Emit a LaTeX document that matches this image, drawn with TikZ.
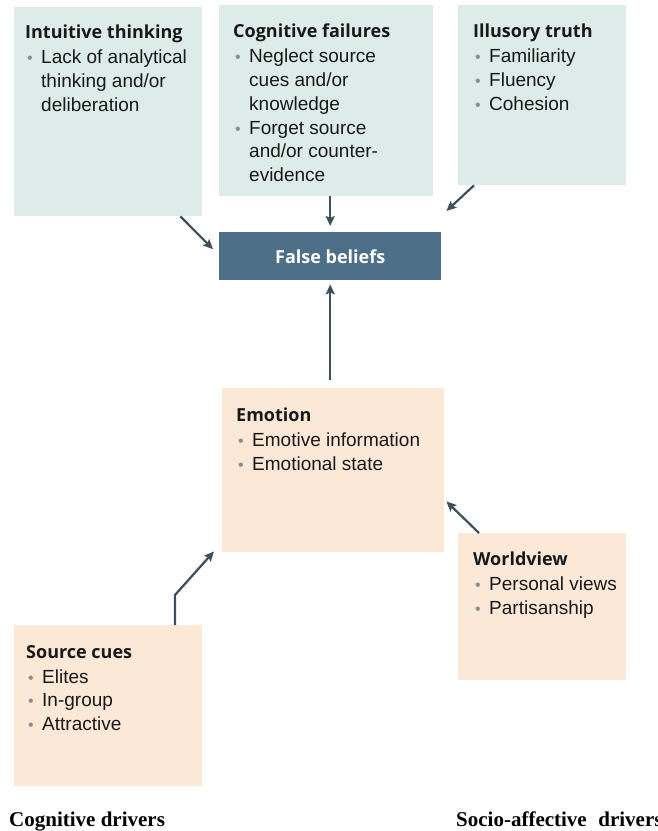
\documentclass[tikz,border=0pt]{standalone}
\usepackage{fontspec}
\setmainfont{Liberation Sans}
\newfontfamily\headfam{Open Sans}
\newfontfamily\capfam{Liberation Serif}
\usepackage{tikz}
\usetikzlibrary{arrows.meta,positioning,calc}
\definecolor{cogteal}{HTML}{DDECE8}
\definecolor{affpeach}{HTML}{FCE8D7}
\definecolor{beliefblue}{HTML}{4D6F87}
\definecolor{arrowslate}{HTML}{3C4F5B}
\definecolor{bulgrey}{HTML}{8C8C8C}
\tikzstyle{cogbox}=[rectangle,fill=cogteal,anchor=north west,inner sep=0pt]
\tikzstyle{affbox}=[rectangle,fill=affpeach,anchor=north west,inner sep=0pt]
\tikzstyle{boxtext}=[anchor=north west,align=left,inner sep=0pt,text=black!90,font=\fontsize{19}{23.8}\selectfont]
\newcommand{\hd}[1]{{\headfam\bfseries\fontsize{18}{20}\selectfont #1}\\[1pt]}
\newcommand{\bul}{\hspace*{2pt}\makebox[14pt][l]{\textcolor{bulgrey}{\fontsize{16}{16}\selectfont\textbullet}}}
\newcommand{\cont}{\hspace*{16pt}}

\begin{document}
\begin{tikzpicture}[x=1pt,y=-1pt]
\useasboundingbox (0,0) rectangle (658,831);
% top row
\node[cogbox,minimum width=188pt,minimum height=209pt] (intuitive) at (14,7) {};
\node[cogbox,minimum width=214pt,minimum height=191pt] (cogfail) at (219,5) {};
\node[cogbox,minimum width=168pt,minimum height=180pt] (illusory) at (458,5) {};
\node[rectangle,fill=beliefblue,anchor=north west,minimum width=222pt,minimum height=48pt,
  text=white,font=\headfam\bfseries\fontsize{18}{20}\selectfont] (false) at (219,232) {False beliefs};
% lower part
\node[affbox,minimum width=222pt,minimum height=164pt] (emotion) at (222,388) {};
\node[affbox,minimum width=168pt,minimum height=147pt] (worldview) at (458,533) {};
\node[affbox,minimum width=188pt,minimum height=161pt] (sources) at (14,625) {};

\node[boxtext] (intuitive-txt) at ($(intuitive.north west)+(11,18)$)
  {\hd{Intuitive thinking}\bul Lack of analytical\\ \cont thinking and/or\\ \cont deliberation};
\node[boxtext] (cogfail-txt) at ($(cogfail.north west)+(14,19)$)
  {\hd{Cognitive failures}\bul Neglect source\\ \cont cues and/or\\ \cont knowledge\\
   \bul Forget source\\ \cont and/or counter-\\ \cont evidence};
\node[boxtext] (illusory-txt) at ($(illusory.north west)+(15,19)$)
  {\hd{Illusory truth}\bul Familiarity\\ \bul Fluency\\ \bul Cohesion};
\node[boxtext] (emotion-txt) at ($(emotion.north west)+(14,20)$)
  {\hd{Emotion}\bul Emotive information\\ \bul Emotional state};
\node[boxtext] (worldview-txt) at ($(worldview.north west)+(15,19)$)
  {\hd{Worldview}\bul Personal views\\ \bul Partisanship};
\node[boxtext] (sources-txt) at ($(sources.north west)+(12,20)$)
  {\hd{Source cues}\bul Elites\\ \bul In-group\\ \bul Attractive};

\node[anchor=base west,inner sep=0pt,font=\capfam\bfseries\fontsize{21}{24}\selectfont] (cogdrivers) at (9,826) {Cognitive drivers};
\node[anchor=base west,inner sep=0pt,font=\capfam\bfseries\fontsize{21}{24}\selectfont] (affdrivers) at (456,826) {Socio-affective\hspace{0.3em} drivers};

\coordinate (bend) at (175,595);
\path[->,>={Stealth[length=10pt,width=9pt,inset=2pt]},color=arrowslate,line width=2.2pt]
($(intuitive.south east)+(-22,0)$) edge ($(false.west)+(-6,-7)$)
(cogfail.south -| false.north) edge ($(false.north)+(0,-6)$)
($(illusory.south west)+(16,0)$) edge ($(false.north east)+(5,-21)$)
($(emotion.north -| false.south)+(0,-8)$) edge ($(false.south)+(0,4)$)
($(worldview.north west)+(21,0)$) edge ($(emotion.south east)+(2,-51)$);
\draw[->,>={Stealth[length=10pt,width=9pt,inset=2pt]},draw=arrowslate,line width=2.2pt]
  (sources.north -| bend) -- (bend) -- ($(emotion.south west)+(-8,-1)$);
\end{tikzpicture}
\end{document}
